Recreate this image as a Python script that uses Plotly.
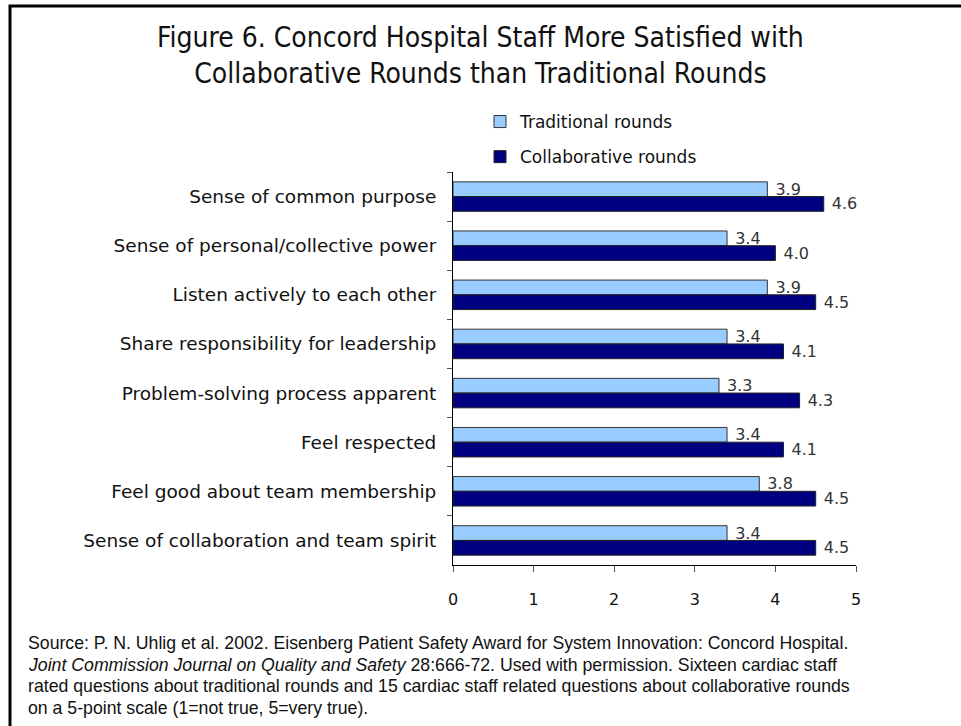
import plotly.graph_objects as go

categories = [
    "Sense of common purpose",
    "Sense of personal/collective power",
    "Listen actively to each other",
    "Share responsibility for leadership",
    "Problem-solving process apparent",
    "Feel respected",
    "Feel good about team membership",
    "Sense of collaboration and team spirit",
]
traditional = [3.9, 3.4, 3.9, 3.4, 3.3, 3.4, 3.8, 3.4]
collaborative = [4.6, 4.0, 4.5, 4.1, 4.3, 4.1, 4.5, 4.5]
x_ticks = [0, 1, 2, 3, 4, 5]

title_text = ("Figure 6. Concord Hospital Staff More Satisfied with<br>"
              "Collaborative Rounds than Traditional Rounds")
source_lines = [
    "Source: P. N. Uhlig et al. 2002. Eisenberg Patient Safety Award for System Innovation: Concord Hospital.",
    "<i>Joint Commission Journal on Quality and Safety</i> 28:666-72. Used with permission. Sixteen cardiac staff",
    "rated questions about traditional rounds and 15 cardiac staff related questions about collaborative rounds",
    "on a 5-point scale (1=not true, 5=very true).",
]

W, H = 961, 726
L, R, T, B = 453, 856, 172, 565

def px_x(p):
    return (p - L) / (R - L)

def px_y(p):
    return (B - p) / (B - T)

fig = go.Figure()
fig.add_trace(go.Bar(
    y=categories, x=traditional, orientation="h", name="Traditional rounds",
    marker=dict(color="#99CCFF", line=dict(color="#333333", width=1)),
    text=[f"\u00a0{v:.1f}" for v in traditional], textposition="outside",
    constraintext="none",
    textfont=dict(family="DejaVu Sans", size=16, color="#333333"),
    cliponaxis=False, legendgroup="a",
))
fig.add_trace(go.Bar(
    y=categories, x=collaborative, orientation="h", name="Collaborative rounds",
    marker=dict(color="#000080", line=dict(color="#222222", width=1)),
    text=[f"\u00a0{v:.1f}" for v in collaborative], textposition="outside",
    constraintext="none",
    textfont=dict(family="DejaVu Sans", size=16, color="#333333"),
    cliponaxis=False, legendgroup="b",
))

annotations = [dict(
    text=title_text, xref="paper", yref="paper", x=px_x(480.5), y=px_y(55),
    xanchor="center", yanchor="middle", align="center", showarrow=False,
    font=dict(family="DejaVu Sans Condensed, Liberation Sans Narrow", size=28, color="#111111"),
)]
line_y = [643, 664.5, 686, 707.5]
for txt, yy in zip(source_lines, line_y):
    annotations.append(dict(
        text=txt, xref="paper", yref="paper", x=px_x(26), y=px_y(yy),
        xanchor="left", yanchor="middle", align="left", showarrow=False,
        font=dict(family="Liberation Sans", size=17.7, color="#111111"),
    ))

fig.update_layout(
    width=W, height=H, autosize=False,
    margin=dict(l=L, r=W - R, t=T, b=H - B, pad=0),
    paper_bgcolor="white", plot_bgcolor="white",
    barmode="group", bargap=0.4, bargroupgap=0,
    legend=dict(
        x=px_x(480), y=px_y(104), xanchor="left", yanchor="top",
        traceorder="grouped", tracegroupgap=10,
        font=dict(family="DejaVu Sans", size=17, color="#111111"),
        bgcolor="rgba(0,0,0,0)",
    ),
    xaxis=dict(
        range=[0, 5], tickvals=x_ticks, ticktext=[str(v) for v in x_ticks],
        showgrid=False, zeroline=False, showline=True, linecolor="black", linewidth=1,
        ticks="outside", ticklen=6, tickcolor="#555555",
        ticklabelstandoff=14,
        tickfont=dict(family="DejaVu Sans", size=16, color="#111111"),
    ),
    yaxis=dict(
        autorange="reversed", showgrid=False, zeroline=False,
        showline=True, linecolor="black", linewidth=1,
        ticks="outside", ticklen=5, tickcolor="#555555", tickson="boundaries",
        ticklabelstandoff=12,
        tickfont=dict(family="DejaVu Sans", size=18.5, color="#111111"),
    ),
    annotations=annotations,
    shapes=[dict(
        type="rect", xref="paper", yref="paper",
        x0=px_x(10), x1=px_x(990), y0=px_y(6), y1=px_y(760),
        line=dict(color="black", width=3), fillcolor="rgba(0,0,0,0)", layer="below",
    )],
)

fig.write_html("out.html", config={"displayModeBar": False},
               post_script="document.body.style.margin='0';")
